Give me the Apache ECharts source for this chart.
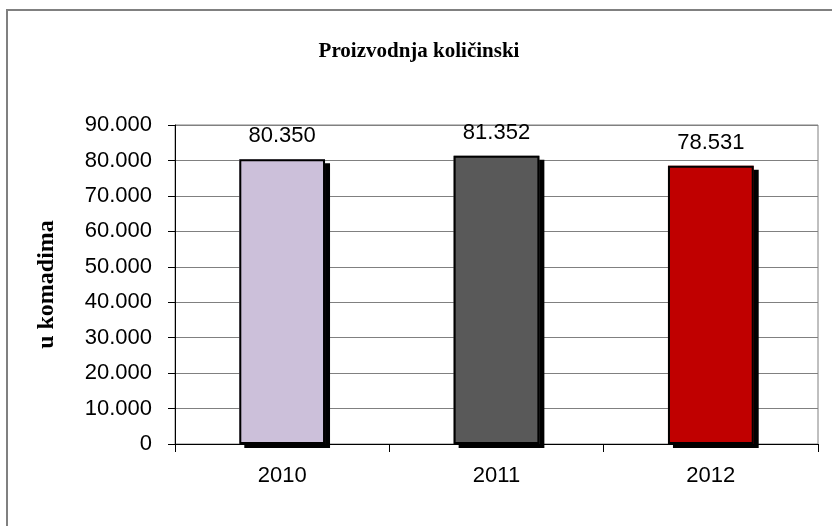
<!DOCTYPE html>
<html>
<head>
<meta charset="utf-8">
<script src="https://cdn.jsdelivr.net/npm/echarts@6/dist/echarts.min.js"></script>
<style>html,body{margin:0;padding:0;background:#fff}#c{width:832px;height:526px}</style>
</head>
<body>
<div id="c"></div>
<script>
var categories = ['2010', '2011', '2012'];
var values = [80350, 81352, 78531];
var barColors = ['#CCC0DA', '#595959', '#C00000'];
var titleText = 'Proizvodnja količinski';
var yName = 'u komadima';

function fmt(v) {
  if (v === 0) return '0';
  var s = Math.round(v).toString();
  return s.replace(/\B(?=(\d{3})+(?!\d))/g, '.');
}

function coloredData() {
  return values.map(function (v, i) {
    return { value: v, itemStyle: { color: barColors[i] } };
  });
}

var chart = echarts.init(document.getElementById('c'));
chart.setOption({
  animation: false,
  backgroundColor: '#fff',
  graphic: [{
    type: 'rect',
    shape: { x: 7, y: 10, width: 840, height: 540 },
    style: { fill: 'none', stroke: '#808080', lineWidth: 2 },
    z: -1
  }],
  title: {
    text: titleText,
    left: 414,
    top: 36,
    textAlign: 'center',
    textStyle: { fontFamily: 'Liberation Serif', fontWeight: 'bold', fontSize: 21, color: '#000' }
  },
  grid: {
    left: 175, right: 14, top: 125, bottom: 82,
    show: true, borderColor: '#808080', borderWidth: 1
  },
  xAxis: {
    type: 'category',
    data: categories,
    axisLine: { lineStyle: { color: '#000', width: 1 } },
    axisTick: { show: true, alignWithLabel: false, length: 8, lineStyle: { color: '#000' } },
    axisLabel: { fontFamily: 'Liberation Sans', fontSize: 22, color: '#000', margin: 21 }
  },
  yAxis: {
    type: 'value',
    min: 0, max: 90000, interval: 10000,
    name: yName,
    nameLocation: 'middle',
    nameGap: 116,
    nameTextStyle: { fontFamily: 'Liberation Serif', fontWeight: 'bold', fontSize: 24, color: '#000' },
    axisLine: { show: true, lineStyle: { color: '#000', width: 1 } },
    axisTick: { show: true, length: 7, lineStyle: { color: '#000' } },
    axisLabel: { fontFamily: 'Liberation Sans', fontSize: 22, color: '#000', margin: 23, formatter: fmt },
    splitLine: { show: true, lineStyle: { color: '#808080', width: 1 } }
  },
  series: [{
    type: 'bar',
    barWidth: '40%',
    data: coloredData(),
    itemStyle: {
      borderWidth: 0,
      shadowColor: '#000', shadowBlur: 0, shadowOffsetX: 5, shadowOffsetY: 4
    },
    z: 2
  }, {
    type: 'bar',
    barWidth: '40%',
    barGap: '-100%',
    data: coloredData(),
    itemStyle: { borderColor: '#000', borderWidth: 2 },
    label: {
      show: true, position: 'top', distance: 12,
      fontFamily: 'Liberation Sans', fontSize: 22, color: '#000',
      formatter: function (p) { return fmt(p.value); }
    },
    z: 3
  }]
});
</script>
</body>
</html>
